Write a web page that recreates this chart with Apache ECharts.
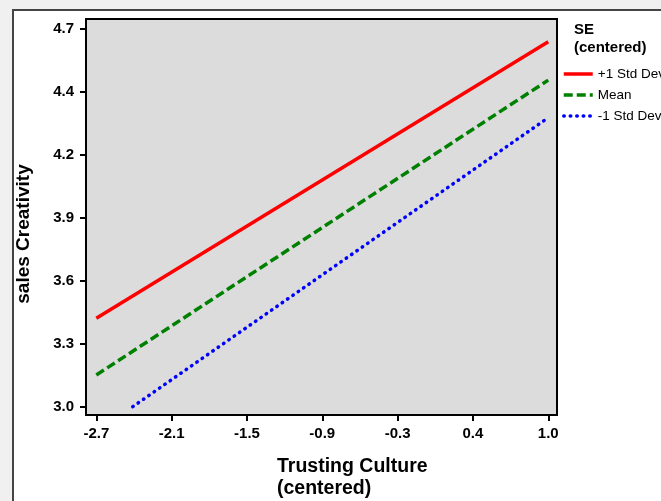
<!DOCTYPE html>
<html><head><meta charset="utf-8">
<script src="https://cdn.jsdelivr.net/npm/echarts@6/dist/echarts.min.js"></script>
<style>html,body{margin:0;padding:0;background:#f0f0f0;}#c{width:661px;height:501px;}</style>
</head><body><div id="c"></div>
<script>
// Tick positions (true axis values) and their printed labels
const xTickValues = [-2.74, -2.12, -1.50, -0.88, -0.26, 0.36, 0.98];
const xTickLabels = ['-2.7', '-2.1', '-1.5', '-0.9', '-0.3', '0.4', '1.0'];
const yTickValues = [3.04, 3.32, 3.60, 3.88, 4.16, 4.44, 4.72];
const yTickLabels = ['3.0', '3.3', '3.6', '3.9', '4.2', '4.4', '4.7'];

// Series (simple slopes)
const seriesNames = ['+1 Std Dev', 'Mean', '-1 Std Dev'];
const plusX = [-2.74, 0.98];
const plusY = [3.433, 4.664];
const meanX = [-2.74, 0.98];
const meanY = [3.181, 4.493];
const minusX = [-2.44, 0.98];
const minusY = [3.04, 4.326];

const FONT = '"Liberation Sans", Arial, sans-serif';
function pairs(xs, ys) { return xs.map((x, i) => [x, ys[i]]); }
function lookup(values, labels) {
  return function (v) {
    let best = 0;
    for (let i = 1; i < values.length; i++) {
      if (Math.abs(values[i] - v) < Math.abs(values[best] - v)) best = i;
    }
    return labels[best];
  };
}

const chart = echarts.init(document.getElementById('c'), null, { renderer: 'canvas' });
chart.setOption({
  backgroundColor: '#f0f0f0',
  animation: false,
  graphic: [
    { type: 'rect', z: -100, shape: { x: 13, y: 10, width: 660, height: 500 }, style: { fill: '#ffffff' } },
    { type: 'polyline', z: -99, shape: { points: [[13, 501], [13, 10], [661, 10]] }, style: { stroke: '#444444', lineWidth: 2, fill: null } },
    { type: 'text', x: 24, y: 234, rotation: Math.PI / 2,
      style: { text: 'sales Creativity', font: 'bold 19px ' + FONT, fill: '#000', align: 'center', verticalAlign: 'middle' } },
    { type: 'text', x: 277, y: 466.5,
      style: { text: 'Trusting Culture', font: 'bold 19.5px ' + FONT, fill: '#000', align: 'left', verticalAlign: 'middle' } },
    { type: 'text', x: 277, y: 488.5,
      style: { text: '(centered)', font: 'bold 19.5px ' + FONT, fill: '#000', align: 'left', verticalAlign: 'middle' } },
    { type: 'text', x: 574, y: 30,
      style: { text: 'SE', font: 'bold 15px ' + FONT, fill: '#000', align: 'left', verticalAlign: 'middle' } },
    { type: 'text', x: 574, y: 48,
      style: { text: '(centered)', font: 'bold 15px ' + FONT, fill: '#000', align: 'left', verticalAlign: 'middle' } }
  ],
  grid: {
    left: 86, top: 19, right: 104, bottom: 86,
    show: true, backgroundColor: '#dcdcdc', borderColor: '#000', borderWidth: 2
  },
  legend: {
    orient: 'vertical', left: 562, top: 67, padding: 0,
    itemWidth: 29, itemHeight: 14, itemGap: 7,
    itemStyle: { opacity: 0 },
    lineStyle: { width: 3.5 },
    textStyle: { fontSize: 13.5, fontFamily: FONT, color: '#000' },
    data: seriesNames
  },
  xAxis: {
    type: 'value', min: -2.825, max: 1.052,
    splitLine: { show: false },
    axisLine: { show: true, onZero: false, lineStyle: { color: '#000', width: 2 } },
    axisTick: { show: true, length: 6, lineStyle: { color: '#000', width: 2 }, customValues: xTickValues },
    axisLabel: { customValues: xTickValues, formatter: lookup(xTickValues, xTickLabels),
      margin: 11, fontSize: 15, fontWeight: 'bold', fontFamily: FONT, color: '#000' }
  },
  yAxis: {
    type: 'value', min: 3.003, max: 4.765,
    splitLine: { show: false },
    axisLine: { show: true, onZero: false, lineStyle: { color: '#000', width: 2 } },
    axisTick: { show: true, length: 6, lineStyle: { color: '#000', width: 2 }, customValues: yTickValues },
    axisLabel: { customValues: yTickValues, formatter: lookup(yTickValues, yTickLabels),
      margin: 12, fontSize: 15, fontWeight: 'bold', fontFamily: FONT, color: '#000' }
  },
  series: [
    { name: seriesNames[0], type: 'line', symbol: 'none', data: pairs(plusX, plusY),
      color: '#ff0000', lineStyle: { color: '#ff0000', width: 3.5, type: 'solid' } },
    { name: seriesNames[1], type: 'line', symbol: 'none', data: pairs(meanX, meanY),
      color: '#008000', lineStyle: { color: '#008000', width: 3.5, type: [9, 4] } },
    { name: seriesNames[2], type: 'line', symbol: 'none', data: pairs(minusX, minusY),
      color: '#0000ff', lineStyle: { color: '#0000ff', width: 3.5, type: [0.5, 6], cap: 'round' } }
  ]
});
</script></body></html>
